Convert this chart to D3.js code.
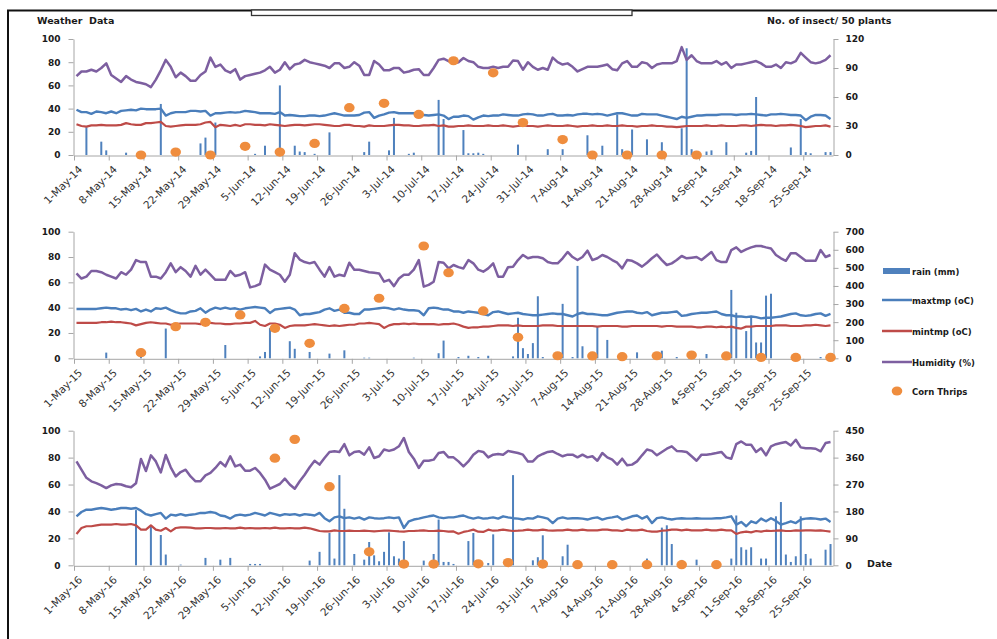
<!DOCTYPE html>
<html>
<head>
<meta charset="utf-8">
<script src="https://cdn.jsdelivr.net/npm/d3@7"></script>
<style>
  html, body { margin: 0; padding: 0; background: #fff; }
  svg { display: block; }
  text { font-family: 'DejaVu Sans', Verdana, sans-serif; }
</style>
</head>
<body>
<svg id="chart" width="997" height="639"></svg>
<script>
// ---- Daily weather, 1 May to 30 Sep (one row per week) ----

const humidity2014 = [
  68, 72, 72, 73.5, 72, 75, 79,
  69, 66, 63, 68, 65, 63, 62,
  61, 58.5, 65, 73, 82, 76, 67,
  71, 68, 64, 64, 69, 72, 84,
  76, 78, 73, 71, 74, 65, 68,
  69, 70, 71, 73, 76, 71, 73.5,
  80, 74, 78, 79, 82, 80, 79,
  78, 77, 75, 79, 79, 75, 76,
  80, 77, 69, 69, 81, 78, 73,
  73, 75, 75, 71, 72, 73.5, 74,
  69, 69, 75, 82, 83, 81, 79,
  80, 83.6, 81, 80, 76, 75, 75,
  76, 75, 76, 76, 81.5, 81, 73.5,
  80, 76, 73.5, 75, 73.5, 84, 80,
  78, 79, 76, 72, 74, 76, 76,
  76, 77, 78, 74, 73, 79, 81,
  76, 76, 80, 79, 75, 78, 79,
  79, 79, 81, 93, 82, 86, 81,
  79, 79, 79, 81, 78, 80, 75,
  78, 78, 79, 80, 81, 79, 76,
  76, 78, 75, 80, 79, 81, 88,
  84, 80, 79, 80, 82, 86
];
const maxTemp2014 = [
  39, 37, 37, 35.5, 37.5, 37, 36,
  37.5, 36, 38, 38.5, 39, 38.5, 40,
  39.5, 39.5, 39.5, 40, 34, 36, 37,
  37, 37, 38, 38, 37.5, 38, 34,
  36, 36, 36.5, 37, 36.5, 37, 38,
  37.5, 37, 36, 36, 36, 35.5, 37,
  34, 34.5, 34, 33.5, 33.5, 34, 34,
  33.5, 34, 35, 36, 35, 34, 34,
  34, 34.5, 36.5, 37, 32, 34, 35,
  36.5, 37, 36, 36, 36, 36, 35,
  34.5, 34, 34.5, 35, 34, 31, 33,
  33, 34, 33.5, 30.5, 32.5, 34, 33.5,
  34, 34, 35, 34.5, 34, 34, 35,
  35.5, 35, 34, 34, 35, 35.5, 34,
  34, 34.5, 34, 35, 35.5, 35.5, 35,
  35.5, 35, 34, 35, 36, 36, 35,
  34, 34, 35.5, 35, 35, 35, 34,
  33, 32, 31, 33, 32, 33, 34,
  34, 34.5, 34.5, 34.5, 35, 35, 35,
  34.5, 35, 35, 35.5, 35, 34.5, 34,
  35, 35, 35.5, 35, 34.5, 34.5, 34,
  30, 33, 34.5, 34.5, 34, 31
];
const minTemp2014 = [
  26.5, 25, 24.5, 25.5, 25.5, 26, 25.5,
  25.5, 25.5, 26, 27.5, 26.5, 26, 26,
  27.5, 27.5, 28, 28.5, 25, 24.5, 25,
  25.5, 26, 26, 26, 26.5, 28, 28.5,
  24, 26, 25.5, 25, 26, 25, 26.5,
  26.5, 26, 26, 25.5, 26.5, 26, 25.5,
  25, 25.5, 26, 26, 25.5, 26, 26.5,
  26.5, 26, 25.5, 25, 25, 26, 26,
  25, 25, 24.5, 25.5, 25, 25, 25,
  25.5, 26, 26, 25.5, 25.5, 25, 25,
  25.5, 25.5, 26, 25, 25.5, 24.5, 24.5,
  25, 25, 25.5, 25, 25, 25, 25.5,
  25, 25, 25.5, 25, 24.5, 25, 25.5,
  25, 25, 24.5, 25, 25.5, 25, 25,
  25, 25.5, 25, 24.5, 25, 25, 25.5,
  25, 25, 25.5, 25, 25, 25.5, 25,
  25, 24.5, 25, 25, 25.5, 25, 25,
  24.5, 24.5, 24, 24.5, 25, 25, 25,
  25, 25.5, 25, 25, 25.5, 25, 25,
  25, 25.5, 25.5, 25, 25.5, 26, 25.5,
  25.5, 25, 25.5, 25.5, 26, 25.5, 25,
  24, 24.5, 25, 25, 25.5, 24.5
];
const rain2014 = [
  0, 0, 24, 0, 0, 11.5, 4,
  0, 0, 0, 2, 0, 0, 0,
  0, 0, 0, 44, 0, 0, 0,
  0, 0, 0, 0, 10, 15, 0,
  28, 0, 0, 0, 0, 0, 0,
  0, 1, 0, 8, 0, 0, 60,
  0, 0, 8, 3, 2.5, 0, 1,
  0, 0, 19.5, 0, 0, 0, 0,
  0, 0, 2.5, 11.5, 0, 0, 0,
  4, 32, 0, 0, 1, 2, 0,
  0, 0, 0, 47.5, 31, 0, 0,
  0, 21.5, 1.5, 1.5, 2, 1, 0,
  0, 0, 0, 0, 0, 9, 0,
  0, 0, 0, 0, 5, 0, 0,
  5, 0, 0, 0, 0, 17, 0,
  0, 8, 0, 0, 35, 5, 0,
  22, 0, 0, 13.5, 0, 0, 11,
  0, 0, 0, 23, 92, 5, 0,
  0, 3, 4, 0, 0, 11, 0,
  0, 0, 2, 3.5, 50, 0, 0,
  0, 0, 0, 0, 6.5, 0, 31,
  2.5, 1.5, 0, 0, 2.5, 2.5
];

const humidity2015 = [
  67, 63, 64.5, 69, 69, 68, 66,
  64.5, 63, 68, 66, 70, 77.6, 76,
  76, 64.5, 64.5, 63, 68, 75, 68,
  72, 69, 64.5, 73, 66, 70, 66,
  62, 62, 62, 69, 65, 66, 68,
  56, 57, 58.7, 74, 70, 68, 66,
  60.5, 66, 83, 78, 76, 75, 76,
  70, 64.5, 72, 64.5, 66, 65, 75.5,
  70, 70, 69, 68, 67.6, 67, 60.5,
  62, 57, 63, 66, 66, 70, 77.6,
  56.6, 58, 60.5, 76, 75.5, 71, 73.7,
  72, 71, 77.6, 75, 70, 68.4, 71,
  75, 64.5, 64.5, 72, 72.4, 77.6, 81.6,
  79, 80, 80, 79, 76, 75, 75,
  79, 84, 80, 77.6, 80, 85, 77.6,
  79, 81.6, 80, 77.6, 75.5, 71, 77.6,
  77, 75, 72.4, 75.5, 79, 82, 77.6,
  73.7, 75, 77.6, 80.8, 79, 79.5, 80,
  77.6, 80.8, 84, 77.6, 76, 76, 85.5,
  87.6, 84, 86, 87.6, 88.7, 88.7, 87.6,
  86.8, 81.6, 79, 77, 83, 83, 80,
  77, 77, 77, 85.5, 80, 81.6
];
const maxTemp2015 = [
  39, 39, 39, 39, 39, 39.5, 40,
  39.5, 39.5, 38.5, 39, 38, 39, 37,
  38.5, 37, 39.5, 39, 40, 38, 36.5,
  35.5, 35.5, 37, 37.5, 39.5, 36, 38.5,
  40, 39, 40, 39, 39.5, 38.5, 39.5,
  40, 40.5, 40, 39.5, 35.8, 38.5, 39,
  39.5, 40, 38.5, 34, 35, 35, 35.8,
  36.5, 38.5, 39.5, 37.5, 38.5, 36, 36,
  35, 35, 38.5, 38.5, 39, 39.5, 40,
  39.5, 38.5, 39.5, 38.5, 38, 38, 37.5,
  34, 39.5, 40, 39.5, 38.5, 38.5, 37,
  37, 36, 37, 36.5, 36, 35, 34,
  36.5, 37, 36, 35, 35.5, 36, 35,
  34.5, 34, 34, 34.5, 35, 35.5, 35,
  35, 34, 33, 35, 36, 35, 35,
  34.5, 34, 34, 35, 36, 36.5, 37,
  37, 36, 35.5, 36.5, 34, 35, 36,
  36, 36.5, 37, 33.5, 34, 35, 35.5,
  36, 36, 36.5, 37, 35, 34, 34,
  33, 33, 32.5, 33, 32.5, 31.5, 32,
  32, 32.5, 33, 34, 35, 35.5, 34,
  33.5, 34, 35, 35.5, 33.5, 35
];
const minTemp2015 = [
  28, 28, 28, 28, 28, 28.5, 28.5,
  29, 28.5, 28.5, 28, 27.5, 26, 27,
  28, 28.5, 28, 27.5, 27.5, 26.5, 27,
  27.5, 27.5, 27.5, 27.5, 27, 28, 28,
  27.5, 27.5, 27, 27, 27.5, 27.5, 28,
  28, 29.5, 26.5, 25.5, 27.5, 27.5, 26.5,
  24, 25.5, 26, 26, 26, 26.5, 27,
  26.5, 26, 25.5, 26, 25.5, 26, 26.5,
  26.5, 27.5, 27.5, 28, 27.5, 27, 24,
  26, 27, 27, 27.5, 27, 27.5, 27,
  27, 27, 27, 26.5, 27, 27, 27.5,
  26.5, 25, 24, 24.5, 24.5, 25, 25,
  25.5, 26, 26, 26, 25.5, 26, 25.5,
  25.5, 25.5, 25.5, 26, 26, 26, 25.5,
  25.5, 25.5, 25.5, 25.5, 25.5, 25.5, 25.5,
  25, 25.5, 25.5, 25.5, 25.5, 25, 25,
  25.5, 25.5, 25.5, 25.5, 25.5, 25.5, 25,
  25.5, 25.5, 25, 25, 25, 25, 24.5,
  24.5, 25, 25, 24.5, 25, 24.5, 25,
  24, 23.5, 25, 25, 25.5, 25.5, 25.5,
  25.5, 26, 26, 26, 25.5, 25.5, 25.5,
  26, 26, 26.5, 26, 25.5, 26
];
const rain2015 = [
  0, 0, 0, 0, 0, 0, 4.5,
  0, 0, 0, 0, 0, 0, 1,
  0, 0, 0, 0, 23.5, 0, 0,
  0, 0, 0, 0, 0, 0, 0,
  0, 0, 10.5, 0, 0, 0, 0,
  0, 0, 1.5, 5, 24, 0, 0,
  0, 13.5, 7.5, 0, 0, 5, 0,
  0, 0, 3.7, 0, 0, 6.3, 0,
  0, 0, 0.5, 0.5, 0, 0, 0,
  0, 0, 0, 0, 0, 0.5, 0,
  0, 0, 0, 4, 14, 0, 0,
  1, 0, 2, 0, 1, 0, 2,
  0, 0, 0, 0, 1.5, 32, 8,
  3.4, 12, 49, 1, 0, 0, 0,
  43, 0, 1, 73, 9.5, 0, 0,
  25, 0, 14.5, 0, 0, 0, 0,
  0, 4.7, 0, 0, 0, 0, 6,
  0, 0, 1, 0, 0, 0, 0,
  0, 3.4, 0, 0, 0, 0, 54,
  36, 0, 21.5, 32, 12.5, 12.5, 49.5,
  51, 0, 0, 0, 0, 0, 0,
  0, 0, 0, 1, 0, 0
];

const humidity2016 = [
  77.2, 71, 65, 62.4, 61, 59.4, 57.4,
  59.4, 60.4, 60, 58.7, 58, 61, 79,
  70, 81.7, 77.2, 69, 82, 72.8, 66,
  69.3, 71, 66, 62.4, 62.4, 66.8, 68.6,
  72.3, 76.7, 73.5, 81, 73.5, 74.8, 70.3,
  70.3, 72.3, 68.6, 63.6, 56.9, 58.7, 60.4,
  64.4, 60, 56.9, 62.4, 67.3, 72.8, 77.7,
  74.8, 79.7, 84.2, 84.7, 84.2, 90, 81.7,
  84.2, 84.7, 82.2, 87.6, 79.7, 81, 86,
  85, 86, 88.4, 94.6, 84.2, 79.2, 72.3,
  77.7, 77.7, 78.5, 83.4, 84.2, 80.2, 80.2,
  77.2, 73.5, 77.2, 82.2, 85, 84.2, 80.2,
  82.2, 82.7, 82.2, 85, 84.2, 83.4, 82.2,
  77.2, 77.2, 81, 82.7, 84.2, 84.7, 82.7,
  81, 82.2, 82.2, 80.2, 82.2, 80.2, 81,
  77.7, 83.4, 80.2, 78.5, 74.8, 79.2, 74.3,
  74.8, 77.2, 81.7, 86, 85, 81.7, 84.2,
  86.6, 88.4, 85, 84.7, 84.2, 81, 77.7,
  82.2, 82.2, 82.7, 83.4, 84.2, 80.2, 79.2,
  90, 92, 89.6, 89.6, 84.2, 87, 81.7,
  88.4, 90, 90.8, 91.6, 89, 93.3, 87.6,
  87, 87, 86.6, 84.7, 90.8, 91.6
];
const maxTemp2016 = [
  36.4, 39.6, 41.3, 41.3, 42, 42.6, 42,
  41.3, 41.8, 42.6, 42.6, 42, 42.6, 40.6,
  38, 37, 38, 38.9, 34.7, 37.6, 37,
  38, 37, 37.6, 38, 38.9, 38.9, 39.6,
  38.9, 37, 36.4, 34.7, 37, 37.6, 37,
  37.6, 38.9, 38, 37, 38.9, 38, 37,
  38, 37.6, 38, 37, 38, 37.6, 37,
  38.9, 35, 32.7, 35.6, 36.4, 35, 35.6,
  34.7, 35.6, 34, 35.6, 35, 34.7, 35,
  35.6, 35, 35.6, 27.7, 32.7, 34, 34.7,
  35.6, 36.4, 37, 35.6, 35, 35.6, 35.6,
  36.4, 37, 35.6, 34.7, 35.6, 34.7, 35,
  35.6, 34.7, 36.4, 35.6, 35, 34.7, 34,
  35, 34.7, 36.4, 35.6, 34.7, 31.4, 34.7,
  35.6, 34.7, 35, 35, 34.7, 34, 35,
  35.6, 34, 35, 35.6, 36.4, 34, 35,
  36.4, 37, 34.7, 36.4, 31.4, 35, 35.6,
  34.7, 34, 34.7, 35, 34.7, 34.7, 35,
  34.7, 34.7, 34.7, 35, 35, 35.6, 36.4,
  30.2, 32.2, 29, 32.7, 31.4, 34.7, 32.7,
  35, 33, 30.2, 31.4, 32.7, 31.4, 34,
  34.7, 35, 34.7, 34, 34.7, 32.2
];
const minTemp2016 = [
  23.3, 27.7, 29, 29, 29.7, 30.2, 30.2,
  30.2, 30.7, 30.2, 30.2, 30.7, 29.7, 26.5,
  26.5, 29.7, 26.5, 25.7, 27.7, 25.2, 27.7,
  28.2, 28.2, 28, 27.5, 27.5, 27.7, 27.7,
  27.5, 27.5, 27.7, 27.5, 27.5, 28, 27.5,
  27.7, 27.5, 27.5, 27.7, 27.5, 28, 27.5,
  27.5, 27.7, 27.5, 27.5, 28, 27.5, 26.5,
  25.5, 25.2, 25.2, 26, 25.5, 25.5, 25.7,
  25.5, 25.5, 25.7, 25.5, 25.2, 25.5, 25.7,
  25.7, 25.5, 25.2, 25, 25.5, 25.5, 25.7,
  26, 25.5, 25.5, 25.7, 25.5, 25, 25.2,
  23.5, 24.8, 25.5, 26.5, 25, 24.8, 26.5,
  25.7, 26, 26.5, 26, 25.5, 25.7, 26,
  26.5, 26, 26, 26.5, 26, 25.7, 26,
  26, 26.5, 26, 26, 26.5, 26, 26,
  26, 26.5, 26.5, 26, 26, 25.5, 26.5,
  26, 26, 26.5, 25.5, 25, 25, 25.7,
  26, 26.5, 26.5, 26, 26.5, 26, 26,
  26, 26.5, 26, 26, 26.5, 26, 26,
  23.3, 24.5, 25, 24.5, 25.5, 25, 25.7,
  25.5, 25.7, 26, 25.5, 25.5, 26, 25.7,
  26, 26, 25.7, 26, 25.5, 25
];
const rain2016 = [
  0, 0, 0, 0, 0, 0, 0,
  0, 0, 0, 0, 0, 41, 0,
  0, 28.5, 0, 22.5, 8, 0, 0,
  0.5, 0, 0, 0, 0, 5.5, 0,
  0, 4.2, 0, 5.5, 0, 0, 0,
  1, 1, 1, 0, 0, 0, 0,
  0, 0, 0, 0, 0, 3.5, 0,
  10, 0, 24, 5, 67, 42, 0,
  8.4, 0, 4.2, 17.3, 7.4, 3, 10,
  24.5, 6.7, 5, 18, 0, 0, 0,
  3.5, 0, 8.4, 34, 2.5, 2.5, 1,
  0, 0, 18, 24, 0, 0, 1.7,
  23, 0, 0, 0, 67, 0, 0,
  0, 3.7, 6, 22.3, 0, 0, 0,
  6.7, 15.3, 0, 0, 0, 0, 0,
  0, 0, 0, 0, 0, 0, 0,
  0, 0, 0, 5, 0, 0, 28,
  29.7, 15.8, 0, 4, 0, 0, 4.2,
  0, 0, 0, 0, 0, 0, 5,
  37, 13.4, 11.6, 13.4, 0, 5, 5,
  0, 36.4, 47, 8, 2.5, 6.7, 36.4,
  8.4, 5, 0, 0, 11.6, 15.8
];

// ---- Corn thrips counts (sampling date, insects per 50 plants) ----
const thripsDates2014 = ["2014-05-14", "2014-05-21", "2014-05-28", "2014-06-04", "2014-06-11", "2014-06-18",
  "2014-06-25", "2014-07-02", "2014-07-09", "2014-07-16", "2014-07-24", "2014-07-30", "2014-08-07",
  "2014-08-13", "2014-08-20", "2014-08-27", "2014-09-03"];
const thrips2014 = [0, 3, 0, 9, 3, 12, 49, 53.5, 42, 97.5, 85, 33.5, 16, 0, 0, 0, 0];

const thripsDates2015 = ["2015-05-14", "2015-05-21", "2015-05-27", "2015-06-03", "2015-06-10", "2015-06-17",
  "2015-06-24", "2015-07-01", "2015-07-10", "2015-07-15", "2015-07-22", "2015-07-29", "2015-08-06",
  "2015-08-13", "2015-08-19", "2015-08-26", "2015-09-02", "2015-09-09", "2015-09-16", "2015-09-23",
  "2015-09-30"];
const thrips2015 = [31, 175, 199, 240, 166, 83, 276, 332, 621, 473, 262, 116, 14, 13, 9, 14, 18, 13, 5, 5, 5];

const thripsDates2016 = ["2016-06-10", "2016-06-14", "2016-06-21", "2016-06-29", "2016-07-06", "2016-07-12",
  "2016-07-21", "2016-07-27", "2016-08-03", "2016-08-10", "2016-08-17", "2016-08-24", "2016-08-31",
  "2016-09-07"];
const thrips2016 = [358, 421, 263, 45, 4, 4, 5, 9, 4, 2, 2, 2, 2, 2];

// ---- Axis ticks ----
const leftTicks = [0, 20, 40, 60, 80, 100];
const rightTicks2014 = [0, 30, 60, 90, 120];
const rightTicks2015 = [0, 100, 200, 300, 400, 500, 600, 700];
const rightTicks2016 = [0, 90, 180, 270, 360, 450];

const legendLabels = ["rain (mm)", "maxtmp (oC)", "mintmp (oC)", "Humidity (%)", "Corn Thrips"];

// ---- Styling ----
const C = {
  rain: "#4f81bd",
  maxT: "#4a7ebb",
  minT: "#be4b48",
  hum: "#7d5fa0",
  thrips: "#ef8d3e",
  axis: "#a6a6a6",
  text: "#1a1a1a"
};

const svg = d3.select("#chart");
const parse = d3.timeParse("%Y-%m-%d");
const fmt = d3.timeFormat("%-d-%b-%y");

// page frame
svg.append("line").attr("x1", 7).attr("x2", 997).attr("y1", 10.5).attr("y2", 10.5)
  .attr("stroke", "#111").attr("stroke-width", 2);
svg.append("line").attr("x1", 8).attr("x2", 8).attr("y1", 10).attr("y2", 639)
  .attr("stroke", "#111").attr("stroke-width", 2);
svg.append("rect").attr("x", 251.5).attr("y", 10).attr("width", 380.5).attr("height", 5.5)
  .attr("fill", "#fff").attr("stroke", "#333").attr("stroke-width", 1.3);

svg.append("text").attr("x", 37).attr("y", 24).attr("font-size", 9.5).attr("font-weight", "bold")
  .attr("fill", C.text).style("white-space", "pre").text("Weather  Data");
svg.append("text").attr("x", 767).attr("y", 24).attr("font-size", 9.5).attr("font-weight", "bold")
  .attr("fill", C.text).text("No. of insect/ 50 plants");

const panels = [
  { year: 2014, top: 39, base: 155, hum: humidity2014, maxT: maxTemp2014, minT: minTemp2014, rain: rain2014,
    tDates: thripsDates2014, thrips: thrips2014, rTicks: rightTicks2014 },
  { year: 2015, top: 231.7, base: 358.3, hum: humidity2015, maxT: maxTemp2015, minT: minTemp2015, rain: rain2015,
    tDates: thripsDates2015, thrips: thrips2015, rTicks: rightTicks2015 },
  { year: 2016, top: 430.7, base: 565.3, hum: humidity2016, maxT: maxTemp2016, minT: minTemp2016, rain: rain2016,
    tDates: thripsDates2016, thrips: thrips2016, rTicks: rightTicks2016 }
];

const X0 = 74, X1 = 833;

panels.forEach(p => {
  const start = new Date(p.year, 4, 1), end = new Date(p.year, 9, 1);
  const days = d3.timeDay.range(start, end);
  const x = d3.scaleTime().domain([start, end]).range([X0, X1]);
  const half = (x(days[1]) - x(days[0])) / 2;
  const cx = d => x(d) + half;
  const yL = d3.scaleLinear().domain([0, 100]).range([p.base, p.top]);
  const yR = d3.scaleLinear().domain([0, d3.max(p.rTicks)]).range([p.base, p.top]);
  const g = svg.append("g");

  // axes
  const left = g.append("g").attr("transform", `translate(${X0 - 0.5},0)`)
    .call(d3.axisLeft(yL).tickValues(leftTicks).tickSize(5).tickSizeOuter(0).tickPadding(8));
  const right = g.append("g").attr("transform", `translate(${X1 + 0.5},0)`)
    .call(d3.axisRight(yR).tickValues(p.rTicks).tickSize(5).tickSizeOuter(0).tickPadding(7));
  [left, right].forEach(a => {
    a.selectAll("path, line").attr("stroke", C.axis);
    a.selectAll("text").attr("font-size", 9).attr("font-weight", "bold").attr("fill", C.text)
      .attr("font-family", "'DejaVu Sans', Verdana, sans-serif");
  });

  const weekly = days.filter((d, i) => i % 7 === 0);
  const bottom = g.append("g").attr("transform", `translate(0,${p.base + 0.5})`)
    .call(d3.axisBottom(x).tickValues(weekly).tickFormat(fmt).tickSize(5).tickSizeOuter(0));
  bottom.selectAll("path, line").attr("stroke", C.axis);
  bottom.selectAll("text")
    .attr("font-size", 10.5).attr("fill", "#333")
    .attr("font-family", "'DejaVu Sans', Verdana, sans-serif")
    .attr("text-anchor", "end")
    .attr("x", 0).attr("y", 0).attr("dy", "0.35em")
    .attr("transform", "translate(6,12) rotate(-45)");

  // rainfall columns
  g.append("g").selectAll("rect").data(days).join("rect")
    .attr("x", d => cx(d) - 1)
    .attr("width", 2)
    .attr("y", (d, i) => yL(p.rain[i]))
    .attr("height", (d, i) => p.base - yL(p.rain[i]))
    .attr("fill", C.rain);

  // weather lines
  const series = [
    { vals: p.minT, color: C.minT, w: 2.2 },
    { vals: p.maxT, color: C.maxT, w: 2.4 },
    { vals: p.hum, color: C.hum, w: 2.5 }
  ];
  series.forEach(s => {
    const line = d3.line().x((d, i) => cx(days[i])).y(d => yL(d));
    g.append("path").datum(s.vals).attr("d", line)
      .attr("fill", "none").attr("stroke", s.color).attr("stroke-width", s.w)
      .attr("stroke-linejoin", "round");
  });

  // corn thrips counts
  g.append("g").selectAll("ellipse").data(p.tDates).join("ellipse")
    .attr("cx", d => cx(parse(d)))
    .attr("cy", (d, i) => yR(p.thrips[i]))
    .attr("rx", 5.3).attr("ry", 4.6)
    .attr("fill", C.thrips);
});

// legend
const lg = svg.append("g");
const lx = 882, rows = [271, 300, 331, 362, 391];
lg.append("rect").attr("x", lx + 1).attr("y", rows[0] - 3).attr("width", 27).attr("height", 6).attr("fill", C.rain);
[[C.maxT, rows[1]], [C.minT, rows[2]], [C.hum, rows[3]]].forEach(([c, y]) => {
  lg.append("line").attr("x1", lx).attr("x2", lx + 30).attr("y1", y).attr("y2", y)
    .attr("stroke", c).attr("stroke-width", 2.5);
});
lg.append("ellipse").attr("cx", lx + 15).attr("cy", rows[4]).attr("rx", 5.3).attr("ry", 4.6).attr("fill", C.thrips);
legendLabels.forEach((t, i) => {
  lg.append("text").attr("x", 912).attr("y", rows[i] + 3.5).attr("font-size", 8.5).attr("font-weight", "bold")
    .attr("fill", C.text).text(t);
});

svg.append("text").attr("x", 867).attr("y", 567).attr("font-size", 9.5).attr("font-weight", "bold")
  .attr("fill", C.text).text("Date");
</script>
</body>
</html>
